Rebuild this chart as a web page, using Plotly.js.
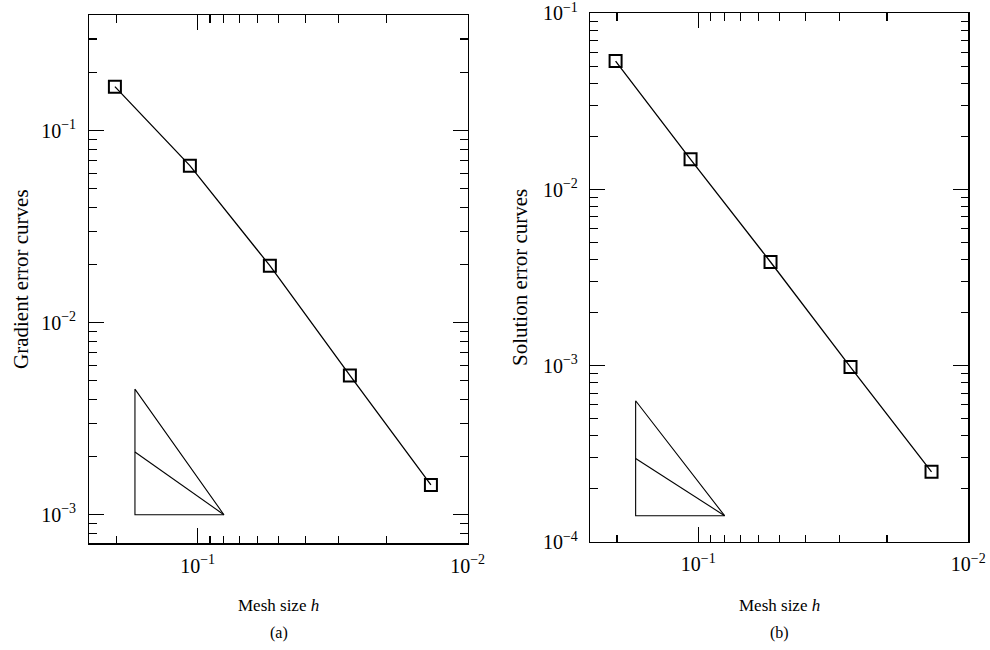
<!DOCTYPE html>
<html>
<head>
<meta charset="utf-8">
<script src="https://cdn.plot.ly/plotly-3.0.1.min.js"></script>
<style>
  html, body { margin: 0; padding: 0; background: #fff; }
  #chart { width: 990px; height: 650px; }
</style>
</head>
<body>
<div id="chart"></div>
<script>
// ---- data ----
const meshSize = [0.2024, 0.1068, 0.054, 0.0273, 0.01368];
const gradientError = [0.1694, 0.0657, 0.0198, 0.00531, 0.00143];
const solutionError = [0.0536, 0.01484, 0.00388, 0.000983, 0.00025];

// slope triangles (left x, right x, top, middle, bottom)
const triangleX = [0.1706, 0.1706, 0.0799, 0.1706, null, 0.1706, 0.0799];
const triangleYa = [0.00451, 0.001, 0.001, 0.00451, null, 0.00212, 0.001];
const triangleYb = [0.000633, 0.000141, 0.000141, 0.000633, null, 0.000298, 0.000141];

// tick values / labels
const xMajorVals = [0.1, 0.01];
const xMajorText = ['10<sup>\u22121</sup>', '10<sup>\u22122</sup>'];
const xMinorVals = [0.2, 0.09, 0.08, 0.07, 0.06, 0.05, 0.04, 0.03, 0.02];
const yaMajorVals = [0.001, 0.01, 0.1];
const yaMajorText = ['10<sup>\u22123</sup>', '10<sup>\u22122</sup>', '10<sup>\u22121</sup>'];
const yaMinorVals = [0.0008, 0.0009,
  0.002, 0.003, 0.004, 0.005, 0.006, 0.007, 0.008, 0.009,
  0.02, 0.03, 0.04, 0.05, 0.06, 0.07, 0.08, 0.09,
  0.2, 0.3];
const ybMajorVals = [0.0001, 0.001, 0.01, 0.1];
const ybMajorText = ['10<sup>\u22124</sup>', '10<sup>\u22123</sup>', '10<sup>\u22122</sup>', '10<sup>\u22121</sup>'];
const ybMinorVals = [
  0.0002, 0.0003, 0.0004, 0.0005, 0.0006, 0.0007, 0.0008, 0.0009,
  0.002, 0.003, 0.004, 0.005, 0.006, 0.007, 0.008, 0.009,
  0.02, 0.03, 0.04, 0.05, 0.06, 0.07, 0.08, 0.09];

// ---- styling ----
const FONT = 'Liberation Serif, Times New Roman, serif';
const lineStyle = {color: '#000', width: 1.3};
const markerStyle = {symbol: 'square-open', size: 12, color: '#000', line: {width: 2, color: '#000'}};

const traces = [
  {x: meshSize, y: gradientError, xaxis: 'x', yaxis: 'y', mode: 'lines+markers',
   line: lineStyle, marker: markerStyle, hoverinfo: 'x+y'},
  {x: triangleX, y: triangleYa, xaxis: 'x', yaxis: 'y', mode: 'lines',
   line: {color: '#000', width: 1.1}, connectgaps: false, hoverinfo: 'skip'},
  {x: meshSize, y: solutionError, xaxis: 'x2', yaxis: 'y2', mode: 'lines+markers',
   line: lineStyle, marker: markerStyle, hoverinfo: 'x+y'},
  {x: triangleX, y: triangleYb, xaxis: 'x2', yaxis: 'y2', mode: 'lines',
   line: {color: '#000', width: 1.1}, connectgaps: false, hoverinfo: 'skip'}
];

function axisBase(extra) {
  return Object.assign({
    type: 'log',
    showline: true, linecolor: '#000', linewidth: 1.2,
    mirror: 'allticks',
    ticks: 'inside', ticklen: 15, tickwidth: 1.1, tickcolor: '#000',
    showgrid: false, zeroline: false,
    tickfont: {family: FONT, size: 20, color: '#000'},
    tickmode: 'array',
    ticklabeloverflow: 'allow',
    fixedrange: true
  }, extra);
}
function minorBase(vals) {
  return {tickmode: 'array', tickvals: vals, ticks: 'inside', ticklen: 7.5,
          tickwidth: 1.1, tickcolor: '#000', showgrid: false};
}

const W = 990, H = 650;
const layout = {
  width: W, height: H,
  margin: {l: 0, r: 0, t: 0, b: 0},
  paper_bgcolor: '#fff', plot_bgcolor: '#fff',
  showlegend: false,
  font: {family: FONT, color: '#000'},
  xaxis: axisBase({
    domain: [89.3 / W, 467.7 / W], anchor: 'y',
    range: [-0.599, -2.0001],
    tickvals: xMajorVals, ticktext: xMajorText,
    minor: minorBase(xMinorVals), ticklabelstandoff: 4
  }),
  yaxis: axisBase({
    domain: [1 - 543.3 / H, 1 - 15 / H], anchor: 'x',
    range: [Math.log10(0.00071), Math.log10(0.4)],
    tickvals: yaMajorVals, ticktext: yaMajorText,
    minor: minorBase(yaMinorVals), ticklabelstandoff: 8
  }),
  xaxis2: axisBase({
    domain: [590 / W, 968.3 / W], anchor: 'y2',
    range: [-0.599, -2.0001],
    tickvals: xMajorVals, ticktext: xMajorText,
    minor: minorBase(xMinorVals), ticklabelstandoff: 4
  }),
  yaxis2: axisBase({
    domain: [1 - 542 / H, 1 - 13.3 / H], anchor: 'x2',
    range: [-4.0001, -0.9999],
    tickvals: ybMajorVals, ticktext: ybMajorText,
    minor: minorBase(ybMinorVals), ticklabelstandoff: 7
  }),
  annotations: [
    {text: 'Mesh size <i>h</i>', x: 278.5 / W, y: 1 - 605 / H, xref: 'paper', yref: 'paper',
     xanchor: 'center', yanchor: 'middle', showarrow: false, font: {family: FONT, size: 17}},
    {text: 'Mesh size <i>h</i>', x: 779 / W, y: 1 - 605 / H, xref: 'paper', yref: 'paper',
     xanchor: 'center', yanchor: 'middle', showarrow: false, font: {family: FONT, size: 17}},
    {text: '(a)', x: 278.5 / W, y: 1 - 633 / H, xref: 'paper', yref: 'paper',
     xanchor: 'center', yanchor: 'middle', showarrow: false, font: {family: FONT, size: 16}},
    {text: '(b)', x: 779 / W, y: 1 - 633 / H, xref: 'paper', yref: 'paper',
     xanchor: 'center', yanchor: 'middle', showarrow: false, font: {family: FONT, size: 16}},
    {text: 'Gradient error curves', x: 21 / W, y: 1 - 279 / H, xref: 'paper', yref: 'paper',
     xanchor: 'center', yanchor: 'middle', textangle: -90, showarrow: false, font: {family: FONT, size: 21}},
    {text: 'Solution error curves', x: 520 / W, y: 1 - 278 / H, xref: 'paper', yref: 'paper',
     xanchor: 'center', yanchor: 'middle', textangle: -90, showarrow: false, font: {family: FONT, size: 21}}
  ]
};

Plotly.newPlot('chart', traces, layout, {displayModeBar: false, staticPlot: true});
</script>
</body>
</html>
